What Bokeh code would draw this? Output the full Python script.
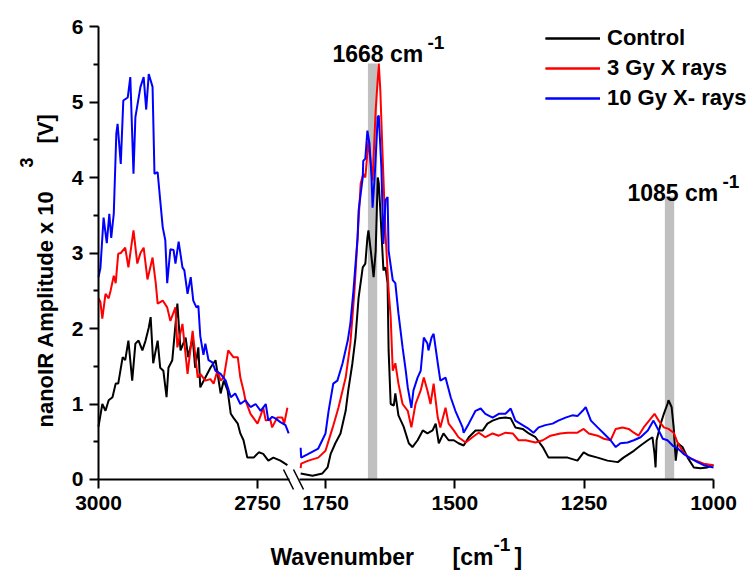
from bokeh.plotting import figure
from bokeh.models import (Range1d, LinearAxis, FixedTicker, Label, Legend,
                          LegendItem, Arrow)
from bokeh.embed import file_html
from bokeh.resources import INLINE

FONT = "Liberation Sans"

# ---- C-H stretching region (3000-2700 cm-1) ----
ch_wn_control = [3000, 2997, 2994, 2989, 2984, 2978, 2973, 2969, 2962, 2958,
                 2953, 2947, 2942, 2937, 2931, 2926, 2921, 2918, 2914, 2907,
                 2903, 2898, 2893, 2890, 2884, 2876, 2871, 2863, 2859, 2852,
                 2848, 2843, 2840, 2832, 2824, 2816, 2808, 2803, 2797, 2792,
                 2788, 2781, 2777, 2772, 2766, 2756, 2748, 2741, 2733, 2725,
                 2714, 2703]
ch_control = [0.70, 0.85, 1.00, 0.91, 1.05, 1.09, 1.27, 1.27, 1.62, 1.58,
              1.84, 1.31, 1.80, 1.84, 1.71, 1.84, 2.01, 2.15, 1.54, 1.84,
              1.48, 1.44, 1.09, 1.48, 1.58, 2.33, 1.71, 1.88, 1.62, 1.88,
              1.48, 1.75, 1.22, 1.35, 1.48, 1.58, 1.14, 1.31, 1.18, 0.87,
              0.82, 0.74, 0.61, 0.52, 0.29, 0.29, 0.36, 0.34, 0.25, 0.29,
              0.25, 0.19]

ch_wn_3gy = [3000, 2997, 2994, 2989, 2984, 2981, 2976, 2973, 2969, 2965,
             2958, 2953, 2945, 2939, 2934, 2929, 2923, 2915, 2910, 2907,
             2899, 2892, 2887, 2879, 2876, 2871, 2868, 2860, 2852, 2844,
             2840, 2832, 2824, 2819, 2813, 2808, 2803, 2796, 2788, 2781,
             2777, 2772, 2769, 2761, 2750, 2745, 2741, 2737, 2730, 2727,
             2719, 2711, 2708, 2703]
ch_3gy = [2.40, 2.35, 2.13, 2.46, 2.40, 2.50, 2.70, 2.60, 2.99, 3.00,
          3.07, 2.81, 3.30, 2.86, 3.00, 3.07, 2.65, 2.94, 2.60, 2.33,
          2.37, 2.28, 2.10, 2.28, 1.75, 1.95, 2.06, 1.40, 1.97, 1.35,
          1.40, 1.31, 1.33, 1.27, 1.44, 1.31, 1.35, 1.71, 1.62, 1.62,
          1.35, 1.18, 1.05, 0.87, 0.74, 0.85, 0.95, 0.78, 0.80, 0.69,
          0.82, 0.82, 0.74, 0.95]

ch_wn_10gy = [3000, 2997, 2992, 2987, 2983, 2980, 2976, 2972, 2970, 2965,
              2961, 2954, 2950, 2945, 2942, 2934, 2929, 2925, 2921, 2915,
              2912, 2907, 2903, 2899, 2895, 2892, 2887, 2882, 2879, 2874,
              2868, 2865, 2860, 2855, 2851, 2846, 2843, 2840, 2835, 2832,
              2827, 2821, 2816, 2808, 2800, 2792, 2785, 2777, 2769, 2761,
              2753, 2745, 2737, 2733, 2727, 2722, 2714, 2706, 2701]
ch_10gy = [2.68, 2.80, 3.47, 3.13, 3.52, 3.20, 3.52, 4.58, 4.71, 4.18,
           5.02, 5.06, 5.33, 4.05, 4.80, 5.20, 5.33, 4.90, 5.37, 5.20,
           4.05, 4.07, 3.70, 3.34, 3.17, 2.60, 3.05, 3.04, 2.86, 3.15,
           2.81, 2.77, 2.46, 2.68, 2.37, 2.28, 2.30, 1.90, 1.65, 1.80,
           1.58, 1.55, 1.44, 1.40, 1.31, 1.09, 1.14, 1.00, 1.05, 0.96,
           1.00, 0.91, 1.00, 0.78, 0.83, 0.81, 0.76, 0.72, 0.61]

# ---- fingerprint region (1800-1000 cm-1) ----
fp_wn_control = [1798, 1775, 1756, 1746, 1740, 1731, 1721, 1711, 1706, 1698,
                 1692, 1686, 1678, 1673, 1669, 1667, 1661, 1657, 1653, 1649,
                 1647, 1644, 1640, 1638, 1634, 1630, 1628, 1624, 1618, 1615,
                 1609, 1599, 1589, 1582, 1572, 1562, 1553, 1543, 1537, 1531,
                 1522, 1512, 1502, 1493, 1483, 1473, 1460, 1446, 1437, 1427,
                 1415, 1402, 1392, 1383, 1369, 1357, 1344, 1330, 1319, 1305,
                 1292, 1282, 1263, 1251, 1241, 1224, 1205, 1185, 1174, 1154,
                 1141, 1127, 1118, 1114, 1112, 1110, 1102, 1096, 1089, 1087,
                 1081, 1077, 1073, 1069, 1060, 1050, 1038, 1025, 1012, 1000]
fp_control = [0.08, 0.05, 0.08, 0.16, 0.34, 0.48, 0.61, 0.91, 1.18, 1.54,
              1.88, 2.41, 2.81, 2.86, 3.20, 3.30, 2.94, 2.68, 3.03, 4.00,
              3.92, 3.56, 3.03, 2.77, 2.81, 2.60, 1.71, 1.00, 0.98, 1.14,
              0.85, 0.70, 0.48, 0.43, 0.52, 0.65, 0.61, 0.65, 0.74, 0.48,
              0.61, 0.52, 0.52, 0.48, 0.45, 0.56, 0.65, 0.65, 0.74, 0.78,
              0.81, 0.82, 0.81, 0.69, 0.67, 0.61, 0.56, 0.43, 0.29, 0.29,
              0.29, 0.29, 0.25, 0.36, 0.32, 0.29, 0.25, 0.23, 0.29, 0.38,
              0.45, 0.52, 0.56, 0.34, 0.16, 0.52, 0.74, 0.87, 1.00, 1.05,
              0.96, 0.69, 0.25, 0.48, 0.43, 0.29, 0.16, 0.15, 0.16, 0.19]

fp_wn_3gy = [1798, 1797, 1783, 1764, 1750, 1736, 1725, 1711, 1702, 1694,
             1688, 1682, 1677, 1673, 1667, 1659, 1653, 1647, 1644, 1640,
             1634, 1628, 1624, 1620, 1615, 1609, 1601, 1591, 1584, 1576,
             1566, 1560, 1553, 1547, 1541, 1533, 1528, 1518, 1512, 1502,
             1493, 1479, 1466, 1454, 1441, 1427, 1415, 1402, 1388, 1377,
             1363, 1344, 1330, 1315, 1296, 1282, 1263, 1251, 1241, 1224,
             1212, 1199, 1189, 1176, 1164, 1154, 1145, 1135, 1121, 1114,
             1106, 1096, 1087, 1077, 1069, 1060, 1048, 1034, 1019, 1000]
fp_3gy = [0.15, 0.21, 0.25, 0.29, 0.38, 0.69, 0.95, 1.35, 1.80, 2.50,
          3.20, 3.92, 4.05, 4.00, 4.49, 3.96, 4.89, 5.51, 5.15, 4.36,
          3.26, 2.50, 2.15, 1.44, 1.54, 1.27, 1.00, 0.91, 0.69, 1.00,
          1.18, 1.35, 1.18, 1.00, 1.27, 0.82, 0.69, 0.95, 0.74, 0.65,
          0.56, 0.49, 0.56, 0.62, 0.56, 0.61, 0.58, 0.62, 0.61, 0.52,
          0.52, 0.49, 0.52, 0.58, 0.61, 0.62, 0.62, 0.67, 0.61, 0.58,
          0.54, 0.52, 0.67, 0.69, 0.67, 0.62, 0.58, 0.69, 0.81, 0.87,
          0.78, 0.69, 0.67, 0.62, 0.48, 0.38, 0.29, 0.25, 0.21, 0.19]

fp_wn_10gy = [1798, 1797, 1783, 1764, 1750, 1744, 1735, 1727, 1717, 1707,
              1702, 1696, 1688, 1686, 1678, 1677, 1673, 1669, 1665, 1661,
              1659, 1655, 1649, 1647, 1642, 1638, 1634, 1630, 1628, 1620,
              1615, 1609, 1601, 1595, 1591, 1584, 1580, 1572, 1566, 1560,
              1553, 1551, 1545, 1541, 1533, 1528, 1518, 1508, 1499, 1485,
              1483, 1473, 1460, 1450, 1441, 1427, 1415, 1402, 1392, 1383,
              1369, 1357, 1348, 1338, 1325, 1311, 1300, 1286, 1273, 1263,
              1253, 1247, 1237, 1224, 1212, 1199, 1189, 1180, 1166, 1154,
              1141, 1127, 1116, 1106, 1098, 1089, 1079, 1069, 1058, 1044,
              1031, 1019, 1000]
fp_10gy = [0.42, 0.29, 0.34, 0.41, 0.61, 0.91, 1.27, 1.31, 1.54, 1.84,
           2.06, 2.50, 3.20, 3.56, 4.00, 4.22, 4.25, 4.62, 4.45, 4.00,
           3.60, 4.00, 4.80, 4.82, 4.13, 3.12, 3.70, 3.74, 3.03, 2.64,
           2.60, 2.20, 1.75, 1.45, 1.22, 0.95, 1.18, 1.35, 1.44, 1.88,
           1.80, 1.71, 1.88, 1.93, 1.54, 1.31, 1.35, 1.09, 0.91, 0.69,
           0.62, 0.74, 0.91, 0.94, 0.87, 0.82, 0.87, 0.87, 0.94, 0.78,
           0.72, 0.67, 0.62, 0.69, 0.72, 0.74, 0.78, 0.82, 0.85, 0.84,
           0.91, 0.96, 0.78, 0.69, 0.61, 0.52, 0.43, 0.48, 0.49, 0.52,
           0.56, 0.65, 0.78, 0.65, 0.54, 0.52, 0.45, 0.41, 0.34, 0.28,
           0.23, 0.19, 0.16]

series_names = ["Control", "3 Gy X rays", "10 Gy X- rays"]
series_colors = ["#000000", "#ff0000", "#0000ff"]

# highlighted absorption bands
band_peaks = [1668, 1085]
band_hi = [1668, 1094]
band_lo = [1650, 1076]
band_top = [5.51, 3.75]

y_ticks = [0, 1, 2, 3, 4, 5, 6]
y_minor_ticks = [0.5, 1.5, 2.5, 3.5, 4.5, 5.5]
left_ticks = [3000, 2750]
right_ticks = [1750, 1500, 1250, 1000]

# ---- one frame covering the canvas; two x scales give the broken axis ----
p = figure(width=756, height=572, output_backend="svg", toolbar_location=None,
           x_range=Range1d(3154.1, 1965.4), y_range=Range1d(-1.2318, 6.3444),
           x_axis_location=None, y_axis_location=None,
           min_border=0, min_border_left=0, min_border_right=0,
           min_border_top=0, min_border_bottom=0)
p.extra_x_ranges = {"fp": Range1d(2378.2, 916.9)}
p.outline_line_color = None
p.xgrid.visible = False
p.ygrid.visible = False
p.background_fill_color = "white"
p.border_fill_color = "white"


def style_axis(ax):
    ax.axis_line_width = 2
    ax.axis_line_color = "black"
    ax.major_tick_line_width = 2
    ax.major_tick_line_color = "black"
    ax.minor_tick_line_width = 2
    ax.minor_tick_line_color = "black"
    ax.major_tick_in = 0
    ax.major_tick_out = 9
    ax.minor_tick_in = 0
    ax.minor_tick_out = 5
    ax.major_label_text_font = FONT
    ax.major_label_text_font_style = "bold"
    ax.major_label_text_font_size = "21px"
    ax.major_label_text_color = "black"


yax = LinearAxis(ticker=FixedTicker(ticks=y_ticks, minor_ticks=y_minor_ticks),
                 bounds=(0, 6), fixed_location=3000)
style_axis(yax)
yax.major_label_standoff = 6
p.add_layout(yax, "left")

ax_ch = LinearAxis(ticker=FixedTicker(ticks=left_ticks), bounds=(2700, 3000),
                   fixed_location=0)
ax_fp = LinearAxis(x_range_name="fp", ticker=FixedTicker(ticks=right_ticks),
                   bounds=(1000, 1800), fixed_location=0)
for ax in (ax_ch, ax_fp):
    style_axis(ax)
    ax.minor_tick_out = 0
    ax.major_label_standoff = 8
    p.add_layout(ax, "below")

# grey marker bands
p.quad(left=band_hi, right=band_lo, bottom=0, top=band_top, x_range_name="fp",
       fill_color="#c0c0c0", line_color=None)

ch_sets = [(ch_wn_control, ch_control), (ch_wn_3gy, ch_3gy), (ch_wn_10gy, ch_10gy)]
fp_sets = [(fp_wn_control, fp_control), (fp_wn_3gy, fp_3gy), (fp_wn_10gy, fp_10gy)]
items = []
for name, color, (cx, cy), (fx, fy) in zip(series_names, series_colors, ch_sets, fp_sets):
    r1 = p.line(cx, cy, line_color=color, line_width=2)
    r2 = p.line(fx, fy, line_color=color, line_width=2, x_range_name="fp")
    items.append(LegendItem(label=name, renderers=[r1, r2]))

legend = Legend(items=items, location=(545, 459), orientation="vertical",
                glyph_width=55, glyph_height=30, label_height=30,
                label_standoff=7, spacing=0, padding=0, margin=0,
                border_line_color=None, background_fill_alpha=0,
                label_text_font=FONT, label_text_font_style="bold",
                label_text_font_size="22px", label_text_color="black")
p.add_layout(legend)

H = 572


def txt(text, px, py, size, angle=0.0):
    # px, py: left end of the baseline, measured from the top-left corner
    return Label(x=px, y=H - py, x_units="screen", y_units="screen", text=text,
                 text_font=FONT, text_font_style="bold",
                 text_font_size=f"{size}px", text_color="black",
                 text_align="left", text_baseline="alphabetic", angle=angle)


# band annotations
band_label_pos = [(332, 53), (627, 192)]
for peak, (px, py) in zip(band_peaks, band_label_pos):
    p.add_layout(txt(f"{peak} cm", px, py, 23))
    p.add_layout(txt("-1", px + 95, py - 11, 19))

# axis titles
p.add_layout(txt("Wavenumber", 270, 556, 23))
p.add_layout(txt("[cm", 452, 556, 23))
p.add_layout(txt("-1", 493, 544, 19))
p.add_layout(txt("]", 514, 556, 23))

p.add_layout(txt("nanoIR Amplitude x 10", 45, 427, 22, angle=1.5708))
p.add_layout(txt("3", 26, 167, 18, angle=1.5708))
p.add_layout(txt("[V]", 45, 143, 22, angle=1.5708))

# axis break marks
for cx in (288, 298):
    p.add_layout(Arrow(x_start=cx - 5, y_start=H - 469, x_end=cx + 5, y_end=H - 489,
                       start_units="screen", end_units="screen", end=None,
                       line_width=1.5, line_color="black"))

open("out.html", "w").write(file_html(p, INLINE))
